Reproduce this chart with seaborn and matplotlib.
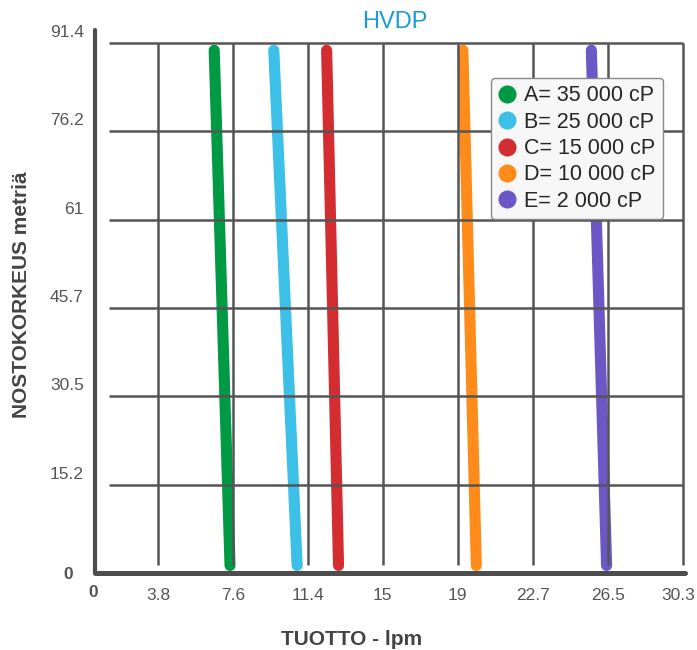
import pandas as pd
import matplotlib
matplotlib.use("Agg")
import matplotlib.pyplot as plt
import matplotlib.transforms as mtransforms
from matplotlib.lines import Line2D
import seaborn as sns

# data (flow in lpm, head in metres)
series = ["A= 35 000 cP", "B= 25 000 cP", "C= 15 000 cP", "D= 10 000 cP", "E= 2 000 cP"]
colors = ["#009a44", "#3cc0e8", "#d42d31", "#ff8c1a", "#6b57c6"]
flow_top = [6.62, 9.63, 12.30, 19.18, 25.67]
flow_bottom = [7.42, 10.81, 12.90, 19.86, 26.44]
head_top = [90.2, 90.2, 90.2, 90.2, 90.2]
head_bottom = [1.3, 1.3, 1.3, 1.3, 1.3]

x_ticks = [3.785, 7.57, 11.355, 15.14, 18.925, 22.71, 26.495, 30.28]
x_labels = ["3.8", "7.6", "11.4", "15", "19", "22.7", "26.5", "30.3"]
y_ticks = [0, 15.24, 30.48, 45.72, 60.96, 76.2, 91.44]
y_labels = ["0", "15.2", "30.5", "45.7", "61", "76.2", "91.4"]

df = pd.DataFrame({
    "series": series + series,
    "flow": flow_top + flow_bottom,
    "head": head_top + head_bottom,
})

sns.set_style("white")
plt.rcParams["font.family"] = ["Liberation Sans", "DejaVu Sans"]

fig = plt.figure(figsize=(6.97, 6.5), dpi=100)
ax = fig.add_axes([95 / 697, 77 / 650, 590 / 697, 543 / 650])

sns.lineplot(data=df, x="flow", y="head", hue="series", palette=dict(zip(series, colors)),
             estimator=None, sort=False, lw=8, solid_capstyle="round",
             legend=False, ax=ax, zorder=2)

ax.set_xlim(0.6, 30.4)
ax.set_ylim(0, 93.7)

# grid drawn by hand so it stops short of the axes, like the original
grid_c = "#555555"
ax.vlines(x_ticks, 1.4, 91.44, colors=grid_c, lw=1.8, zorder=3)
ax.hlines(y_ticks[1:], 1.3, 30.28, colors=grid_c, lw=1.8, zorder=3)

for side in ["top", "right"]:
    ax.spines[side].set_visible(False)
ax.spines["left"].set_linewidth(3)
ax.spines["bottom"].set_linewidth(3.6)
for side in ["left", "bottom"]:
    ax.spines[side].set_color("#4d4d4d")
    ax.spines[side].set_capstyle("round")

ax.set_xticks(x_ticks, x_labels)
ax.set_yticks(y_ticks, y_labels)
ax.tick_params(length=0, labelsize=12.5, colors="#555555")
ax.tick_params(axis="x", pad=11)
ax.tick_params(axis="y", pad=8)
ax.set_xlabel("")
ax.set_ylabel("")

# y labels sit a bit above their grid lines; the zero is bold
up = mtransforms.ScaledTranslation(0, 0.12, fig.dpi_scale_trans)
left = mtransforms.ScaledTranslation(-0.11, 0, fig.dpi_scale_trans)
ylabs = ax.get_yticklabels()
for i, lab in enumerate(ylabs):
    if i == 0:
        lab.set_fontweight("bold")
        lab.set_transform(lab.get_transform() + left)
    else:
        lab.set_transform(lab.get_transform() + up)

# keep the last x label inside the canvas
last = ax.get_xticklabels()[-1]
last.set_transform(last.get_transform() + mtransforms.ScaledTranslation(-0.04, 0, fig.dpi_scale_trans))

ax.annotate("0", xy=(0, 0), xycoords="axes fraction", xytext=(-1.5, -14),
            textcoords="offset points", ha="center", va="center",
            fontsize=12.5, fontweight="bold", color="#555555")

handles = [Line2D([], [], marker="o", ls="", color=c, markersize=12) for c in colors]
leg = ax.legend(handles, series, loc="upper right", bbox_to_anchor=(0.963, 0.912),
                borderaxespad=0, frameon=True, fancybox=True, framealpha=1,
                facecolor="#f7f7f7", edgecolor="#888888", prop={"size": 15.5},
                handlelength=0.8, handletextpad=0.4, labelspacing=0.25, borderpad=0.35)
leg.set_zorder(5)

fig.text(395 / 697, 1 - 22 / 650, "HVDP", ha="center", va="center",
         fontsize=17, color="#1a9ad6")
fig.text(352 / 697, 5 / 650, "TUOTTO - lpm", ha="center", va="baseline",
         fontsize=15, fontweight="bold", color="#444444")
fig.text(22 / 697, 1 - 295 / 650, "NOSTOKORKEUS metriä", ha="center", va="center",
         rotation=90, fontsize=15, fontweight="bold", color="#444444")

fig.savefig("out.png", dpi=100)
